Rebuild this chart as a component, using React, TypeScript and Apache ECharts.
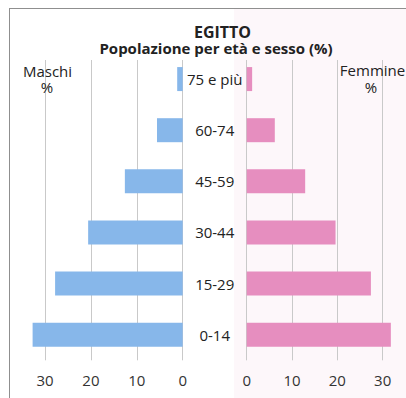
import React, { useEffect, useRef } from "react";
import * as echarts from "echarts";

// Age groups, bottom to top as the category axis lists them
const ageGroups = ["0-14", "15-29", "30-44", "45-59", "60-74", "75 e più"];
// Share of the population (%) in each age group
const maleShare = [32.7, 27.8, 20.6, 12.6, 5.6, 1.2];
const femaleShare = [31.8, 27.4, 19.6, 12.9, 6.2, 1.2];
// Axis scale: 0 to 30, a tick every 10
const axisMin = 0;
const axisMax = 30;
const axisStep = 10;

const titleText = "EGITTO";
const subtitleText = "Popolazione per età e sesso (%)";
const leftLabel = "Maschi";
const rightLabel = "Femmine";
const unitLabel = "%";

const FONT = "'Open Sans', 'Noto Sans', sans-serif";
const BLUE = "#87b7ea";
const PINK = "#e68ebf";
const GRID_LINE = "#c9c9c9";
const TEXT = "#222222";

export default function App() {
  const ref = useRef<HTMLDivElement>(null);

  useEffect(() => {
    if (!ref.current) return;
    const chart = echarts.init(ref.current, undefined, { renderer: "svg" });

    const valueAxis = (gridIndex: number, inverse: boolean) => ({
      gridIndex,
      type: "value",
      inverse,
      min: axisMin,
      max: axisMax,
      interval: axisStep,
      axisLine: { show: false },
      axisTick: { show: false },
      splitLine: { show: true, lineStyle: { color: GRID_LINE, width: 1 } },
      axisLabel: {
        fontSize: 15,
        fontFamily: FONT,
        color: "#333333",
        margin: 12,
      },
    });

    const text = (
      content: string,
      x: number,
      y: number,
      size: number,
      weight: string
    ) => ({
      type: "text",
      x,
      y,
      z: 101,
      style: {
        text: content,
        fill: TEXT,
        font: `${weight} ${size}px ${FONT}`,
        lineHeight: size,
        align: "center",
        verticalAlign: "middle",
      },
    });

    chart.setOption({
      animation: false,
      backgroundColor: "#ffffff",
      grid: [
        { left: 45, top: 53.5, width: 137.7, height: 306.8 },
        { left: 246.7, top: 53.5, width: 136, height: 306.8 },
      ],
      xAxis: [valueAxis(0, true), valueAxis(1, false)],
      yAxis: [
        {
          gridIndex: 0,
          type: "category",
          data: ageGroups,
          position: "right",
          axisLine: { show: false },
          axisTick: { show: false },
          splitLine: { show: false },
          axisLabel: {
            align: "center",
            margin: 32,
            fontSize: 15,
            fontFamily: FONT,
            color: TEXT,
          },
        },
        {
          gridIndex: 1,
          type: "category",
          data: ageGroups,
          axisLine: { show: false },
          axisTick: { show: false },
          splitLine: { show: false },
          axisLabel: { show: false },
        },
      ],
      series: [
        {
          name: leftLabel,
          type: "bar",
          xAxisIndex: 0,
          yAxisIndex: 0,
          data: maleShare,
          barWidth: 24,
          clip: false,
          itemStyle: { color: BLUE },
        },
        {
          name: rightLabel,
          type: "bar",
          xAxisIndex: 1,
          yAxisIndex: 1,
          data: femaleShare,
          barWidth: 24,
          clip: false,
          itemStyle: { color: PINK },
        },
      ],
      graphic: [
        // faint pink wash behind the female side
        {
          type: "rect",
          z: -10,
          shape: { x: 234, y: 9, width: 172, height: 389 },
          style: { fill: "#fdf7fa" },
        },
        // trims the tops of the grid lines
        {
          type: "rect",
          z: 100,
          shape: { x: 30, y: 50, width: 204, height: 10 },
          style: { fill: "#ffffff" },
        },
        {
          type: "rect",
          z: 100,
          shape: { x: 234, y: 50, width: 172, height: 10 },
          style: { fill: "#fdf7fa" },
        },
        // frame
        {
          type: "line",
          z: 100,
          shape: { x1: 9, y1: 8.5, x2: 406, y2: 8.5 },
          style: { stroke: "#8f8f8f", lineWidth: 1 },
        },
        {
          type: "line",
          z: 100,
          shape: { x1: 9.5, y1: 8, x2: 9.5, y2: 398 },
          style: { stroke: "#8f8f8f", lineWidth: 1 },
        },
        text(titleText, 222.5, 32, 16, "bold"),
        text(subtitleText, 216, 47.5, 15, "bold"),
        text(leftLabel, 47.5, 71, 15, "normal"),
        text(unitLabel, 47, 87, 15, "normal"),
        text(rightLabel, 372.5, 70, 15, "normal"),
        text(unitLabel, 371, 87, 15, "normal"),
      ],
    });

    return () => chart.dispose();
  }, []);

  return (
    <div
      ref={ref}
      style={{ position: "fixed", left: 0, top: 0, width: 406, height: 398 }}
    />
  );
}
